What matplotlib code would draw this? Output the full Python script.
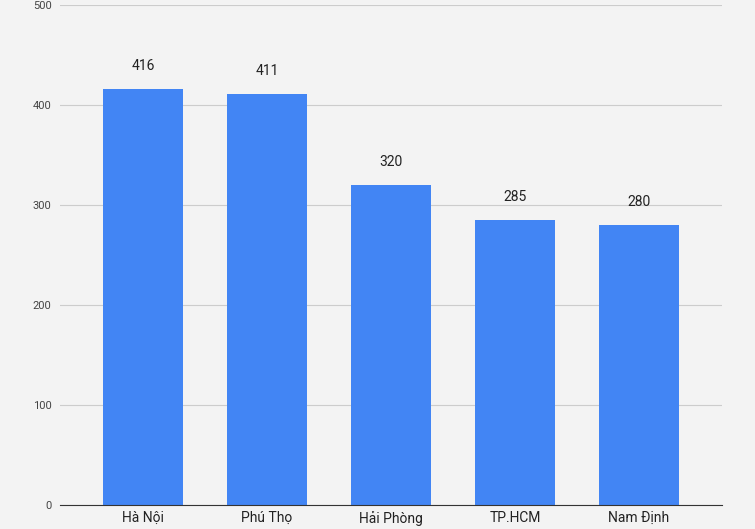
import matplotlib
matplotlib.use("Agg")
import matplotlib.pyplot as plt

categories = ["Hà Nội", "Phú Thọ", "Hải Phòng", "TP.HCM", "Nam Định"]
values = [416, 411, 320, 285, 280]
yticks = [0, 100, 200, 300, 400, 500]

plt.rcParams['font.family'] = ['Roboto', 'DejaVu Sans']
fig = plt.figure(figsize=(7.55, 5.29), dpi=100, facecolor="#f3f3f3")
ax = fig.add_axes([60/755, 24/529, 662/755, 500/529], facecolor="#f3f3f3")
x = range(len(categories))
bars = ax.bar(x, values, width=0.65, color="#4285f4", zorder=3)
for xi, v in zip(x, values):
    ax.text(xi, v + 16, str(v), ha="center", va="bottom", fontsize=10, color="#222222")
ax.set_xlim(-0.67, 4.67)
ax.set_ylim(0, 500)
ax.set_yticks(yticks)
ax.set_xticks(list(x))
ax.set_xticklabels(categories, fontsize=10, color="#222222")
ax.tick_params(axis="y", length=0, labelsize=8, labelcolor="#444444", pad=6)
ax.tick_params(axis="x", length=0, pad=4)
ax.grid(axis="y", color="#cccccc", linewidth=0.8, zorder=0)
for s in ["top", "right", "left"]:
    ax.spines[s].set_visible(False)
ax.spines["bottom"].set_color("#333333")
ax.spines["bottom"].set_zorder(4)
fig.savefig("out.png", dpi=100, facecolor=fig.get_facecolor())
